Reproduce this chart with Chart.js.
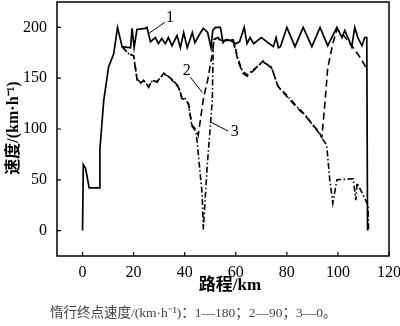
<!DOCTYPE html>
<html><head><meta charset="utf-8">
<script src="https://cdn.jsdelivr.net/npm/chart.js@4/dist/chart.umd.min.js"></script>
<style>html,body{margin:0;padding:0;background:#fff;}#wrap{width:400px;height:326px;}</style>
</head><body><div id="wrap"><canvas id="c" width="400" height="326"></canvas></div>
<script>
// x: distance (km), y: speed (km/h)
const s1X = [0,0.3,1.2,2.6,6.7,6.8,8.3,10.2,12.2,13.7,15.5,18.8,19.4,20.2,21.3,24.6,25.2,26.6,28.5,29.7,31,32.4,33.6,35,37,38.3,39.6,41,43,44,46,47.3,49,50.3,51,52,54,55,56,58,60,61.5,63.3,64.4,65.6,67,70,74.7,75.8,76.7,77.5,80,83.2,86.4,89.8,93,96,99.6,101.6,102.7,105.4,106.6,107.8,109.4,110.5,111.3,111.6];
const s1Y = [0,65,61,42,42,80,128,161,174,200,181,180,199,180,198,199,200,186,190,184,189,184,190,182,192,180,195,180,195,185,194,199,195,180,197,200,200,185,188,187,184,186,200,184,190,184,190,181,190,180,181,200,181,200,181,200,182,200,190,197,181,200,190,182,190,190,0];
const s2X = [15.5,18.1,20,21.4,22.7,23.9,25.9,27.2,29.2,31.8,34.4,35.7,37.6,38.9,40.2,41.5,42.8,44.6,45.3,47.4,49,51,51.5,53,55,57,59,61,62.8,64.5,67.6,70.7,74,76.6,79.3,84,87.9,92.3,93.7,95,96,98,99.6,102,106,108,110,111.5];
const s2Y = [181,174,172,148,145,148,141,148,146,155,150,146,141,130,129,125,104,99,94,131,148,177,188,190,186,188,186,166,155,152,159,167,160,142,134,121,111,98,92,128,160,184,198,193,180,173,165,158];
const s3X = [15.5,18.1,20,21.4,22.7,23.9,25.9,27.2,29.2,31.8,34.4,35.7,37.6,38.9,40.2,41.5,42.8,44.5,46.8,47.3,48.8,50.8,51.2,52,55,57,59,61,62.5,64.4,67.6,70.7,74,76.6,79.3,84,87.9,90,92.3,93.6,95.6,96.8,98,99.6,106,107,107.5,111.8,112];
const s3Y = [181,174,172,149,146,147,142,147,147,154,151,147,142,131,130,124,103,97,37,1,63,128,184,189,187,187,188,168,158,153,160,166,161,141,135,122,112,104,97,92,84,50,27,50,51,30,47,25,0];
const xTicks = [0,20,40,60,80,100,120];
const yTicks = [0,50,100,150,200];
const seriesLabels = ['1','2','3'];
// annotation anchors in data units: [labelX, labelY, lineFromX, lineFromY, lineToX, lineToY]
const callouts = [[34.2,209,32.2,205,25.9,194],[40.8,157,42.2,151,46.9,136],[59.6,97,57,98,50,107]];

const pts = (xs, ys) => xs.map((x,i)=>({x:x,y:ys[i]}));
const serif = "'Liberation Serif','Noto Sans CJK SC',serif";

const decor = {
  id:'decor',
  afterDraw(chart){
    const {ctx, chartArea:a, scales:{x,y}} = chart;
    ctx.save();
    ctx.strokeStyle='#000'; ctx.lineWidth=1.5;
    ctx.strokeRect(a.left, a.top, a.right-a.left, a.bottom-a.top);
    ctx.lineWidth=1.2;
    ctx.beginPath();
    xTicks.forEach(v=>{const px=x.getPixelForValue(v); ctx.moveTo(px,a.bottom); ctx.lineTo(px,a.bottom-4);});
    yTicks.forEach(v=>{const py=y.getPixelForValue(v); ctx.moveTo(a.left,py); ctx.lineTo(a.left+4,py);});
    ctx.stroke();
    ctx.lineWidth=1;
    ctx.fillStyle='#000';
    ctx.font='16px '+serif; ctx.textAlign='center'; ctx.textBaseline='middle';
    callouts.forEach((c,i)=>{
      ctx.beginPath();
      ctx.moveTo(x.getPixelForValue(c[2]), y.getPixelForValue(c[3]));
      ctx.lineTo(x.getPixelForValue(c[4]), y.getPixelForValue(c[5]));
      ctx.stroke();
      ctx.fillText(seriesLabels[i], x.getPixelForValue(c[0]), y.getPixelForValue(c[1]));
    });
    ctx.font='bold 17px '+serif;
    ctx.fillText('路程/km', 230, 286);
    ctx.save();
    ctx.translate(14, 128); ctx.rotate(-Math.PI/2);
    ctx.font='bold 16px '+serif;
    ctx.fillText('速度/(km·h⁻¹)', 0, 0);
    ctx.restore();
    ctx.font='13.5px '+serif; ctx.fillStyle='#444'; ctx.textAlign='left';
    ctx.fillText('惰行终点速度/(km·h⁻¹)：1—180；2—90；3—0。', 50, 313);
    ctx.restore();
  }
};

new Chart(document.getElementById('c'), {
  type:'line',
  data:{datasets:[
    {data:pts(s1X,s1Y), borderColor:'#000', borderWidth:1.7, pointRadius:0, tension:0},
    {data:pts(s2X,s2Y), borderColor:'#000', borderWidth:1.6, borderDash:[7,4], pointRadius:0, tension:0},
    {data:pts(s3X,s3Y), borderColor:'#000', borderWidth:1.6, borderDash:[6,2.5,1.5,2.5], pointRadius:0, tension:0}
  ]},
  options:{
    responsive:false, animation:false, events:[],
    layout:{padding:{top:2,right:11,left:0,bottom:0}},
    plugins:{legend:{display:false}, tooltip:{enabled:false}},
    scales:{
      x:{type:'linear', min:-10, max:120,
        afterBuildTicks:s=>{s.ticks=xTicks.map(v=>({value:v}));},
        afterFit:s=>{s.height=70; s.paddingLeft=0; s.paddingRight=0;},
        grid:{display:false, drawTicks:false}, border:{display:false},
        ticks:{color:'#000', font:{family:serif,size:16}, padding:7, maxRotation:0}},
      y:{type:'linear', min:-25, max:225,
        afterBuildTicks:s=>{s.ticks=yTicks.map(v=>({value:v}));},
        afterFit:s=>{s.width=57; s.paddingTop=0; s.paddingBottom=0;},
        grid:{display:false, drawTicks:false}, border:{display:false},
        ticks:{color:'#000', font:{family:serif,size:16}, padding:10}}
    }
  },
  plugins:[decor]
});
</script></body></html>
